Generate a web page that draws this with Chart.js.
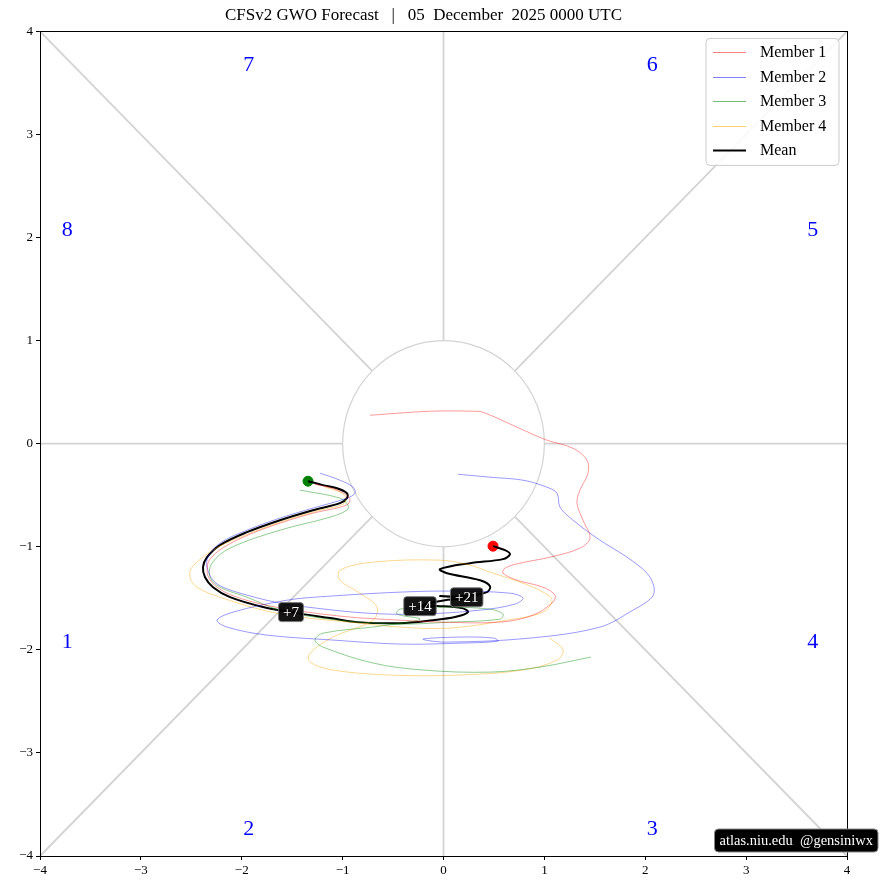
<!DOCTYPE html>
<html><head><meta charset="utf-8">
<script src="https://cdn.jsdelivr.net/npm/chart.js@4.4.0/dist/chart.umd.min.js"></script>
<style>html,body{margin:0;padding:0;background:#fff;}#wrap{width:881px;height:890px;}</style>
</head><body><div id="wrap"><canvas id="c" width="881" height="890"></canvas></div>
<script>
// ---- data ----
const titleText = "CFSv2 GWO Forecast   |   05  December  2025 0000 UTC";
const tickValues = [-4,-3,-2,-1,0,1,2,3,4];
const tickLabels = ["\u22124","\u22123","\u22122","\u22121","0","1","2","3","4"];

const m1X=[-1.274,-1.076,-0.937,-0.937,-1.026,-1.294,-1.621,-1.918,-2.176,-2.315,-2.344,-2.325,-2.245,-2.077,-1.760,-1.423,-0.927,-0.431,-0.035,0.560,0.887,1.085,1.105,0.986,0.729,0.590,0.610,0.758,1.056,1.353,1.452,1.383,1.323,1.353,1.432,1.423,1.284,1.026,0.729,0.392,0.292,-0.134,-0.729];
const m1Y=[-0.393,-0.441,-0.519,-0.577,-0.616,-0.674,-0.771,-0.878,-1.004,-1.120,-1.217,-1.304,-1.392,-1.479,-1.566,-1.624,-1.682,-1.712,-1.731,-1.731,-1.663,-1.537,-1.469,-1.392,-1.324,-1.256,-1.207,-1.159,-1.101,-1.013,-0.916,-0.742,-0.577,-0.451,-0.286,-0.160,-0.044,0.034,0.160,0.305,0.315,0.315,0.276];

const m2X=[-1.224,-1.026,-0.897,-0.877,-0.957,-1.294,-1.621,-1.948,-2.216,-2.335,-2.344,-2.285,-2.186,-1.948,-1.621,-1.353,-0.758,-0.233,0.362,0.709,0.788,0.659,0.064,-0.431,-1.125,-1.551,-2.087,-2.245,-2.146,-1.750,-1.095,-0.431,0.164,0.540,0.501,0.164,-0.203,0.015,0.857,1.551,1.878,2.067,2.087,2.017,1.819,1.551,1.284,1.155,1.125,1.026,0.788,0.461,0.144];
const m2Y=[-0.286,-0.354,-0.422,-0.480,-0.528,-0.625,-0.722,-0.839,-0.965,-1.101,-1.198,-1.324,-1.392,-1.469,-1.547,-1.585,-1.644,-1.653,-1.615,-1.556,-1.498,-1.450,-1.430,-1.440,-1.479,-1.518,-1.634,-1.712,-1.779,-1.857,-1.905,-1.944,-1.935,-1.915,-1.886,-1.876,-1.896,-1.925,-1.886,-1.779,-1.615,-1.489,-1.392,-1.256,-1.101,-0.936,-0.742,-0.616,-0.480,-0.422,-0.354,-0.325,-0.296];

const m3X=[-1.423,-1.026,-0.947,-0.957,-1.125,-1.621,-2.116,-2.295,-2.315,-2.216,-1.948,-1.621,-1.125,-0.461,0.064,0.560,0.590,0.461,-0.035,-0.431,-0.461,-0.233,-0.629,-1.195,-1.274,-1.195,-0.699,-0.203,0.461,0.957,1.462];
const m3Y=[-0.451,-0.528,-0.596,-0.645,-0.713,-0.839,-1.013,-1.159,-1.295,-1.392,-1.489,-1.615,-1.702,-1.750,-1.731,-1.702,-1.653,-1.605,-1.585,-1.605,-1.653,-1.702,-1.770,-1.838,-1.905,-1.973,-2.128,-2.196,-2.216,-2.167,-2.070];

const m4X=[-1.175,-1.026,-0.967,-0.996,-1.224,-1.621,-2.017,-2.285,-2.493,-2.513,-2.444,-2.216,-1.789,-1.423,-0.927,-0.431,0.064,0.629,0.986,1.076,0.986,0.788,0.461,0.263,-0.035,-0.699,-1.026,-1.026,-0.828,-0.659,-0.699,-1.095,-1.323,-1.323,-1.095,-0.530,0.134,0.788,1.125,1.185,1.056];
const m4Y=[-0.422,-0.470,-0.528,-0.587,-0.645,-0.761,-0.907,-1.033,-1.198,-1.295,-1.392,-1.489,-1.615,-1.682,-1.731,-1.779,-1.789,-1.712,-1.634,-1.518,-1.440,-1.353,-1.246,-1.178,-1.130,-1.149,-1.227,-1.324,-1.450,-1.585,-1.712,-1.876,-2.032,-2.119,-2.196,-2.245,-2.245,-2.196,-2.099,-2.002,-1.886];

const meanX=[-1.343,-1.195,-1.056,-0.957,-0.957,-1.026,-1.294,-1.621,-1.948,-2.216,-2.344,-2.384,-2.364,-2.285,-2.116,-1.789,-1.512,-1.125,-0.857,-0.431,-0.104,0.114,0.243,0.183,-0.035,-0.233,0.015,0.263,-0.035,0.213,0.431,0.461,0.362,0.035,-0.035,0.263,0.590,0.659,0.610,0.491];
const meanY=[-0.364,-0.402,-0.432,-0.480,-0.528,-0.577,-0.645,-0.742,-0.858,-0.984,-1.101,-1.198,-1.295,-1.392,-1.489,-1.585,-1.634,-1.692,-1.731,-1.741,-1.712,-1.682,-1.634,-1.595,-1.576,-1.576,-1.518,-1.498,-1.479,-1.479,-1.440,-1.382,-1.324,-1.256,-1.217,-1.159,-1.120,-1.072,-1.033,-0.994];

const dayLabels=["+7","+14","+21"];
const dayX=[-1.512,-0.233,0.23];
const dayY=[-1.634,-1.576,-1.49];

const phaseNames=["1","2","3","4","5","6","7","8"];
const phaseX=[-3.73,-1.93,2.07,3.66,3.66,2.07,-1.93,-3.73];
const phaseY=[-1.93,-3.74,-3.74,-1.93,2.07,3.67,3.67,2.07];

const memberLabels=["Member 1","Member 2","Member 3","Member 4"];
const memberColors=["rgba(255,0,0,0.5)","rgba(0,0,255,0.5)","rgba(0,140,0,0.55)","rgba(255,165,0,0.55)"];
const watermark="atlas.niu.edu  @gensiniwx";

const FONT="'Liberation Serif', 'Times New Roman', serif";
const pts=(xs,ys)=>xs.map((v,i)=>({x:v,y:ys[i]}));
const memberData=[pts(m1X,m1Y),pts(m2X,m2Y),pts(m3X,m3Y),pts(m4X,m4Y)];

const datasets=memberData.map((d,i)=>({label:memberLabels[i],data:d,showLine:true,borderColor:memberColors[i],borderWidth:0.8,pointRadius:0,tension:0.35,fill:false,legendItem:true}));
datasets.push({label:"Mean",data:pts(meanX,meanY),showLine:true,borderColor:"#000",borderWidth:2,pointRadius:0,tension:0.35,fill:false,legendItem:true});
datasets.push({label:"start",data:[{x:meanX[0],y:meanY[0]}],pointRadius:5,pointBackgroundColor:"green",pointBorderColor:"green",showLine:false});
datasets.push({label:"end",data:[{x:meanX[meanX.length-1],y:meanY[meanY.length-1]}],pointRadius:5,pointBackgroundColor:"red",pointBorderColor:"red",showLine:false});

function rrect(ctx,x,y,w,h,r){ctx.beginPath();ctx.moveTo(x+r,y);ctx.lineTo(x+w-r,y);ctx.quadraticCurveTo(x+w,y,x+w,y+r);ctx.lineTo(x+w,y+h-r);ctx.quadraticCurveTo(x+w,y+h,x+w-r,y+h);ctx.lineTo(x+r,y+h);ctx.quadraticCurveTo(x,y+h,x,y+h-r);ctx.lineTo(x,y+r);ctx.quadraticCurveTo(x,y,x+r,y);ctx.closePath();}

const refPlugin={id:'ref',
 beforeDatasetsDraw(chart){
  const {ctx,scales:{x,y}}=chart;
  const px=v=>x.getPixelForValue(v), py=v=>y.getPixelForValue(v);
  ctx.save();
  ctx.strokeStyle='#d3d3d3';ctx.lineWidth=1.8;
  const seg=(a,b,c,d)=>{ctx.beginPath();ctx.moveTo(px(a),py(b));ctx.lineTo(px(c),py(d));ctx.stroke();};
  seg(-4,0,-1,0);seg(1,0,4,0);seg(0,1,0,4);seg(0,-1,0,-4);
  const d=Math.SQRT1_2;
  seg(-4,4,-d,d);seg(4,4,d,d);seg(-4,-4,-d,-d);seg(4,-4,d,-d);
  ctx.lineWidth=1.2;ctx.beginPath();
  ctx.ellipse(px(0),py(0),px(1)-px(0),py(0)-py(1),0,0,Math.PI*2);ctx.stroke();
  // phase numbers
  ctx.fillStyle='#0000ff';ctx.font="22px "+FONT;ctx.textAlign='center';ctx.textBaseline='middle';
  phaseNames.forEach((n,i)=>ctx.fillText(n,px(phaseX[i]),py(phaseY[i])));
  ctx.restore();
 },
 afterDraw(chart){
  const {ctx,chartArea:ca,scales:{x,y}}=chart;
  const px=v=>x.getPixelForValue(v), py=v=>y.getPixelForValue(v);
  ctx.save();
  // frame
  ctx.strokeStyle='#000';ctx.lineWidth=1;ctx.strokeRect(Math.round(ca.left)+0.5,Math.round(ca.top)+0.5,Math.round(ca.right-ca.left),Math.round(ca.bottom-ca.top));
  // day labels
  ctx.font="15px "+FONT;ctx.textAlign='center';ctx.textBaseline='middle';
  dayLabels.forEach((t,i)=>{
   const w=ctx.measureText(t).width+9,h=19,cx=px(dayX[i]),cy=py(dayY[i]);
   ctx.fillStyle='rgba(0,0,0,0.92)';rrect(ctx,cx-w/2,cy-h/2,w,h,3);ctx.fill();
   ctx.strokeStyle='rgba(120,120,120,0.9)';ctx.lineWidth=1;ctx.stroke();
   ctx.fillStyle='#fff';ctx.fillText(t,cx,cy+1);
  });
  // legend
  const items=chart.data.datasets.filter(d=>d.legendItem);
  const lx=ca.right-141,ly=ca.top+7,lw=133,lh=127;
  ctx.fillStyle='rgba(255,255,255,0.85)';rrect(ctx,lx,ly,lw,lh,4);ctx.fill();
  ctx.strokeStyle='#cccccc';ctx.lineWidth=1;ctx.stroke();
  ctx.font="16px "+FONT;ctx.textAlign='left';ctx.textBaseline='middle';
  items.forEach((d,i)=>{
   const yy=Math.round(ly+14+i*24.5)+0.5;
   ctx.strokeStyle=d.borderColor;ctx.lineWidth=d.borderWidth<1?1:d.borderWidth;
   ctx.beginPath();ctx.moveTo(lx+7,yy);ctx.lineTo(lx+40,yy);ctx.stroke();
   ctx.fillStyle='#000';ctx.fillText(d.label,lx+54,yy);
  });
  // watermark
  ctx.font="14.5px "+FONT;
  const tw=ctx.measureText(watermark).width;
  const bw=tw+10,bh=23,bx=878-bw,by=829;
  ctx.fillStyle='#000';rrect(ctx,bx,by,bw,bh,4);ctx.fill();
  ctx.strokeStyle='#888';ctx.lineWidth=1;ctx.stroke();
  ctx.fillStyle='#fff';ctx.textAlign='center';ctx.fillText(watermark,bx+bw/2,by+bh/2+1);
  ctx.restore();
 }
};

const tickCb=(v)=>{const i=tickValues.indexOf(v);return i>=0?tickLabels[i]:'';};
const axis=(isX)=>({type:'linear',min:-4,max:4,
  ticks:{stepSize:1,color:'#000',font:{family:FONT,size:13},padding:3,callback:tickCb,maxRotation:0,autoSkip:false},
  grid:{display:true,drawOnChartArea:false,drawTicks:true,tickLength:4,tickColor:'#000'},
  border:{display:true,color:'#000',width:1},
  afterFit(s){ if(isX) s.height=34; else s.width=40; }
});

new Chart(document.getElementById('c'),{
 type:'scatter',
 data:{datasets},
 options:{responsive:false,animation:false,devicePixelRatio:1,
  layout:{padding:{top:0,right:34,left:0,bottom:0}},
  scales:{x:axis(true),y:axis(false)},
  plugins:{legend:{display:false},tooltip:{enabled:false},
   title:{display:true,text:titleText,color:'#000',font:{family:FONT,size:17,weight:'normal'},padding:{top:5,bottom:6}}}
 },
 plugins:[refPlugin]
});
</script></body></html>
